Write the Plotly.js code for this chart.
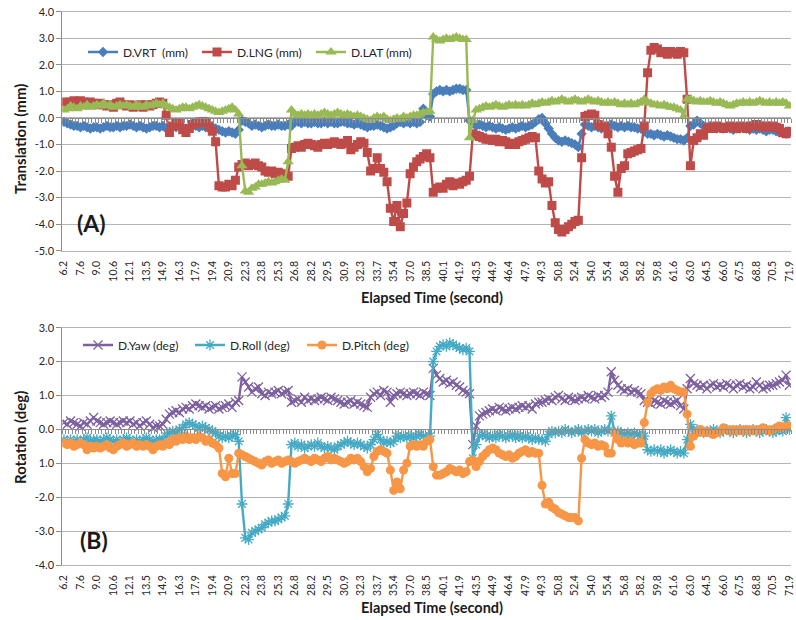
<!DOCTYPE html>
<html><head><meta charset="utf-8">
<script src="https://cdn.plot.ly/plotly-3.0.1.min.js"></script>
<style>html,body{margin:0;padding:0;background:#fff}</style>
</head><body><div id="chart" style="width:796px;height:620px"></div>
<script>
// Labelled elapsed times (every 5th sample)
const tickLabels = ["6.2","7.6","9.0","10.6","12.1","13.5","14.9","16.3","17.9","19.4","20.9","22.3","23.8","25.3","26.8","28.2","29.5","30.9","32.3","33.7","35.4","37.0","38.5","40.1","41.9","43.5","44.9","46.4","47.9","49.3","50.8","52.4","54.0","55.4","56.8","58.2","59.8","61.6","63.0","64.5","66.0","67.5","68.8","70.5","71.9"];

const vrt = [
-0.15,-0.2,-0.25,-0.3,-0.3,
-0.35,-0.3,-0.35,-0.4,-0.35,
-0.35,-0.4,-0.35,-0.3,-0.35,
-0.35,-0.3,-0.35,-0.3,-0.3,
-0.25,-0.3,-0.35,-0.3,-0.35,
-0.4,-0.35,-0.3,-0.3,-0.35,
-0.3,-0.4,-0.35,-0.3,-0.35,
-0.3,-0.35,-0.4,-0.35,-0.3,
-0.3,-0.35,-0.3,-0.35,-0.4,
-0.35,-0.4,-0.45,-0.5,-0.55,
-0.5,-0.55,-0.6,-0.45,-0.1,
-0.15,-0.2,-0.3,-0.25,-0.3,
-0.35,-0.3,-0.25,-0.3,-0.3,
-0.25,-0.3,-0.3,-0.25,-0.3,
-0.15,-0.15,-0.2,-0.15,-0.2,
-0.2,-0.15,-0.2,-0.2,-0.15,
-0.2,-0.15,-0.2,-0.2,-0.15,
-0.15,-0.2,-0.2,-0.25,-0.2,
-0.25,-0.3,-0.35,-0.3,-0.3,
-0.25,-0.3,-0.35,-0.4,-0.35,
-0.3,-0.2,-0.15,-0.2,-0.15,
-0.2,-0.15,-0.2,-0.15,0.35,
0.1,0.05,0.9,1.0,1.05,
1.0,1.05,1.0,1.05,1.1,
1.1,1.05,1.05,-0.1,-0.2,
-0.3,-0.25,-0.3,-0.35,-0.3,
-0.35,-0.4,-0.35,-0.4,-0.45,
-0.4,-0.35,-0.4,-0.35,-0.3,
-0.35,-0.3,-0.25,-0.15,-0.05,
0.0,-0.2,-0.4,-0.6,-0.75,
-0.85,-0.9,-0.85,-0.9,-0.95,
-1.0,-1.1,-0.6,-0.25,-0.3,
-0.35,-0.3,-0.35,-0.4,-0.35,
-0.3,-0.25,-0.3,-0.35,-0.3,
-0.35,-0.3,-0.35,-0.35,-0.4,
-0.4,-0.5,-0.6,-0.6,-0.65,
-0.6,-0.65,-0.7,-0.65,-0.7,
-0.75,-0.8,-0.8,-0.85,-0.75,
-0.3,-0.25,-0.1,-0.2,-0.3,
-0.35,-0.3,-0.35,-0.4,-0.35,
-0.4,-0.35,-0.4,-0.45,-0.4,
-0.4,-0.35,-0.4,-0.45,-0.4,
-0.45,-0.4,-0.45,-0.5,-0.45,
-0.45,-0.5,-0.55,-0.5,-0.6,
-0.55];

const lng = [
0.6,0.55,0.6,0.65,0.6,
0.65,0.6,0.55,0.6,0.55,
0.5,0.55,0.5,0.45,0.5,
0.4,0.55,0.6,0.5,0.45,
0.5,0.4,0.45,0.5,0.4,
0.5,0.45,0.5,0.55,0.6,
0.55,0.1,-0.55,-0.3,-0.2,
-0.2,-0.45,-0.55,-0.4,-0.25,
-0.2,-0.15,-0.15,-0.15,-0.3,
-0.5,-0.9,-2.55,-2.6,-2.6,
-2.5,-2.55,-2.35,-1.85,-1.75,
-1.7,-1.8,-1.75,-1.7,-1.8,
-1.85,-2.0,-2.05,-2.0,-2.1,
-2.05,-2.1,-2.15,-2.2,-1.15,
-1.1,-1.05,-1.1,-1.0,-0.95,
-1.0,-1.05,-1.1,-1.0,-0.95,
-1.0,-0.95,-0.9,-0.95,-1.0,
-0.95,-0.85,-1.2,-1.1,-1.0,
-0.9,-0.95,-1.3,-2.0,-1.9,
-1.5,-1.9,-2.05,-2.4,-3.4,
-3.9,-3.3,-4.1,-3.6,-3.2,
-2.1,-1.85,-1.65,-1.55,-1.45,
-1.35,-1.5,-2.8,-2.65,-2.6,
-2.65,-2.5,-2.4,-2.55,-2.45,
-2.5,-2.4,-2.35,-2.2,-0.6,
-0.65,-0.7,-0.75,-0.8,-0.8,
-0.85,-0.8,-0.9,-0.85,-0.9,
-1.0,-0.95,-1.0,-0.9,-0.85,
-0.8,-0.75,-0.7,-0.75,-2.0,
-2.3,-2.45,-2.4,-3.3,-3.95,
-4.2,-4.3,-4.2,-4.1,-4.0,
-3.9,-3.85,-1.5,0.05,0.1,
0.15,0.1,-0.25,-0.3,-0.35,
-0.6,-1.1,-2.2,-2.8,-1.9,
-1.8,-1.35,-1.3,-1.25,-1.2,
-1.15,-0.3,1.7,2.55,2.65,
2.6,2.45,2.5,2.4,2.5,
2.45,2.4,2.5,2.45,0.7,
-1.8,-0.85,-0.75,-0.6,-0.65,
-0.4,-0.35,-0.4,-0.3,-0.35,
-0.4,-0.35,-0.3,-0.35,-0.4,
-0.3,-0.35,-0.4,-0.3,-0.3,
-0.25,-0.3,-0.35,-0.3,-0.35,
-0.3,-0.35,-0.4,-0.55,-0.6,
-0.5];

const lat = [
0.3,0.35,0.45,0.4,0.35,
0.45,0.4,0.5,0.4,0.45,
0.5,0.45,0.55,0.45,0.5,
0.4,0.45,0.5,0.45,0.5,
0.45,0.4,0.5,0.45,0.4,
0.5,0.45,0.5,0.55,0.5,
0.55,0.45,0.4,0.35,0.3,
0.35,0.4,0.4,0.35,0.4,
0.45,0.5,0.45,0.4,0.35,
0.3,0.25,0.2,0.25,0.3,
0.35,0.4,0.3,0.15,-1.8,
-2.75,-2.8,-2.65,-2.6,-2.5,
-2.5,-2.45,-2.4,-2.45,-2.4,
-2.35,-2.3,-2.35,-1.65,0.3,
0.15,0.1,0.15,0.1,0.15,
0.1,0.15,0.1,0.15,0.2,
0.15,0.1,0.15,0.2,0.15,
0.1,0.15,0.1,0.05,0.1,
0.05,0.0,-0.05,-0.1,0.0,
0.05,0.0,0.05,-0.05,-0.1,
-0.05,0.0,-0.05,0.05,0.0,
0.05,0.1,0.1,0.15,0.2,
0.2,0.25,3.05,2.95,2.9,
2.95,3.0,2.95,3.0,3.05,
3.0,2.95,2.95,-0.75,-0.1,
0.3,0.35,0.4,0.45,0.4,
0.45,0.5,0.45,0.4,0.45,
0.5,0.45,0.5,0.45,0.5,
0.45,0.5,0.55,0.5,0.55,
0.6,0.55,0.6,0.65,0.6,
0.65,0.7,0.65,0.6,0.65,
0.7,0.65,0.6,0.65,0.7,
0.65,0.6,0.65,0.6,0.55,
0.6,0.55,0.6,0.55,0.5,
0.55,0.5,0.55,0.5,0.55,
0.6,0.7,0.6,0.55,0.5,
0.5,0.45,0.5,0.45,0.4,
0.4,0.35,0.3,0.05,0.7,
0.7,0.65,0.6,0.65,0.6,
0.6,0.65,0.6,0.55,0.6,
0.55,0.5,0.45,0.5,0.55,
0.55,0.6,0.55,0.6,0.55,
0.6,0.65,0.6,0.55,0.6,
0.55,0.6,0.55,0.6,0.55,
0.45];

const yaw = [
0.2,0.15,0.25,0.2,0.15,
0.1,0.2,0.15,0.25,0.35,
0.25,0.2,0.15,0.2,0.25,
0.2,0.15,0.2,0.25,0.2,
0.25,0.15,0.2,0.1,0.2,
0.25,0.15,0.05,0.1,0.1,
0.15,0.3,0.45,0.5,0.55,
0.5,0.6,0.65,0.6,0.7,
0.75,0.7,0.65,0.7,0.6,
0.65,0.7,0.6,0.65,0.7,
0.75,0.65,0.8,0.85,1.55,
1.4,1.25,1.1,1.2,1.25,
1.05,1.0,1.1,1.05,1.1,
1.15,1.05,1.1,1.15,0.8,
0.85,0.9,0.8,0.95,0.85,
0.9,0.85,0.9,0.95,0.9,
0.85,0.95,0.9,0.85,0.8,
0.75,0.8,0.85,0.75,0.8,
0.75,0.7,0.65,0.95,1.05,
1.1,1.0,1.15,1.1,0.8,
1.0,1.05,1.1,1.05,1.0,
1.05,1.1,1.05,1.0,1.1,
1.05,1.0,1.8,1.6,1.5,
1.4,1.45,1.35,1.4,1.3,
1.25,1.15,1.1,1.05,-0.45,
0.1,0.4,0.45,0.5,0.55,
0.6,0.55,0.65,0.6,0.55,
0.6,0.65,0.6,0.65,0.7,
0.65,0.7,0.6,0.75,0.8,
0.8,0.85,0.9,0.85,0.95,
1.0,0.9,0.85,0.95,0.9,
0.85,0.9,0.95,0.9,1.0,
0.95,0.9,1.0,0.95,1.0,
1.1,1.7,1.45,1.3,1.2,
1.15,1.2,1.1,1.15,1.1,
1.05,0.85,0.8,0.75,0.85,
0.8,0.75,0.85,0.8,0.75,
0.8,0.85,0.7,0.6,1.2,
1.5,1.35,1.3,1.25,1.3,
1.2,1.3,1.35,1.25,1.3,
1.25,1.35,1.3,1.2,1.3,
1.35,1.25,1.3,1.2,1.25,
1.4,1.3,1.2,1.25,1.3,
1.3,1.35,1.4,1.45,1.6,
1.3];

const roll = [
-0.3,-0.35,-0.3,-0.4,-0.3,
-0.35,-0.3,-0.25,-0.35,-0.3,
-0.3,-0.35,-0.3,-0.25,-0.3,
-0.35,-0.3,-0.35,-0.3,-0.25,
-0.3,-0.35,-0.3,-0.35,-0.3,
-0.25,-0.3,-0.35,-0.3,-0.3,
-0.3,-0.2,-0.1,-0.05,-0.1,
0.0,0.05,0.15,0.2,0.15,
0.1,0.05,0.1,0.05,0.0,
-0.05,-0.1,-0.2,-0.25,-0.2,
-0.25,-0.2,-0.15,-0.35,-2.2,
-3.2,-3.25,-3.05,-3.0,-2.95,
-2.9,-2.8,-2.75,-2.7,-2.7,
-2.65,-2.6,-2.55,-2.2,-0.45,
-0.4,-0.5,-0.45,-0.55,-0.5,
-0.45,-0.5,-0.4,-0.5,-0.55,
-0.5,-0.55,-0.6,-0.5,-0.45,
-0.4,-0.35,-0.4,-0.45,-0.4,
-0.45,-0.5,-0.55,-0.45,-0.3,
-0.15,-0.3,-0.4,-0.35,-0.4,
-0.35,-0.2,-0.25,-0.2,-0.25,
-0.2,-0.25,-0.2,-0.15,-0.2,
-0.25,-0.2,2.0,2.3,2.45,
2.5,2.45,2.55,2.5,2.45,
2.4,2.35,2.4,2.3,-0.85,
-0.45,-0.2,-0.15,-0.2,-0.25,
-0.2,-0.25,-0.15,-0.2,-0.25,
-0.2,-0.15,-0.25,-0.2,-0.25,
-0.2,-0.25,-0.3,-0.25,-0.3,
-0.3,-0.35,-0.15,-0.05,-0.1,
-0.05,-0.1,0.0,-0.05,-0.1,
-0.05,0.0,-0.1,-0.05,0.0,
-0.05,0.0,-0.1,-0.05,0.0,
-0.05,0.4,-0.1,-0.05,-0.1,
-0.15,-0.1,-0.15,-0.1,-0.15,
-0.2,-0.2,-0.6,-0.65,-0.6,
-0.65,-0.6,-0.7,-0.65,-0.6,
-0.65,-0.7,-0.65,-0.7,-0.3,
0.15,-0.05,0.0,-0.05,-0.1,
-0.05,-0.1,0.0,-0.05,-0.1,
-0.05,0.0,-0.05,-0.1,-0.05,
0.0,-0.05,-0.1,-0.05,0.0,
-0.05,-0.1,-0.05,0.0,-0.05,
-0.1,-0.05,0.0,-0.05,0.35,
0.0];

const pitch = [
-0.4,-0.45,-0.4,-0.5,-0.45,
-0.4,-0.45,-0.6,-0.5,-0.55,
-0.5,-0.55,-0.5,-0.45,-0.55,
-0.6,-0.5,-0.45,-0.4,-0.5,
-0.45,-0.4,-0.5,-0.45,-0.5,
-0.45,-0.5,-0.6,-0.5,-0.45,
-0.5,-0.4,-0.45,-0.3,-0.35,
-0.25,-0.3,-0.2,-0.3,-0.25,
-0.3,-0.2,-0.25,-0.35,-0.3,
-0.4,-0.45,-0.55,-1.3,-1.4,
-0.85,-1.3,-1.3,-0.7,-0.75,
-0.8,-0.85,-0.9,-0.95,-1.0,
-1.05,-0.95,-0.9,-1.0,-0.95,
-0.9,-1.0,-0.95,-0.9,-0.95,
-1.0,-0.95,-0.9,-0.85,-0.9,
-0.95,-0.85,-0.9,-0.95,-0.85,
-0.8,-0.9,-0.85,-0.9,-0.95,
-1.0,-0.95,-0.85,-0.9,-0.85,
-0.95,-1.1,-1.25,-1.15,-0.8,
-0.65,-0.6,-0.65,-0.7,-1.2,
-1.8,-1.55,-1.75,-1.2,-1.0,
-0.5,-0.45,-0.5,-0.45,-0.5,
-0.35,-0.3,-1.1,-1.35,-1.35,
-1.3,-1.25,-1.15,-1.2,-1.25,
-1.2,-1.3,-1.25,-0.95,-0.9,
-1.1,-0.95,-0.8,-0.7,-0.6,
-0.55,-0.6,-0.7,-0.75,-0.8,
-0.75,-0.85,-0.8,-0.7,-0.65,
-0.6,-0.7,-0.65,-0.7,-0.7,
-1.65,-2.2,-2.15,-2.3,-2.35,
-2.45,-2.5,-2.55,-2.6,-2.6,
-2.6,-2.7,-0.85,-0.3,-0.4,
-0.45,-0.4,-0.5,-0.45,-0.5,
-0.7,-0.7,-0.1,-0.3,-0.4,
-0.35,-0.4,-0.35,-0.45,-0.4,
-0.4,0.2,0.8,1.05,1.15,
1.2,1.15,1.25,1.2,1.3,
1.2,1.15,1.1,1.1,0.45,
-0.5,-0.2,-0.1,0.0,-0.1,
-0.05,-0.1,-0.15,-0.1,-0.05,
0.05,0.0,-0.05,0.0,-0.05,
0.0,-0.05,0.0,-0.05,0.0,
-0.05,0.0,0.05,0.0,-0.05,
0.0,0.05,0.1,0.05,0.1,
0.1];

// y tick labels exactly as printed in the source
const transTicks = ['-5.0','-4.0','-3.0','-2.0','-1.0','0.0','1.0','2.0','3.0','4.0'];
const rotTicks = ['-4.0','-3.0','-2.0','1.0','0.0','1.0','2.0','3.0'];

const idx = vrt.map((_, i) => i);
const tickVals = tickLabels.map((_, k) => k * 5);
const XR = [-0.5, idx.length - 0.5];

const FONT = 'Lato, "Open Sans", "DejaVu Sans", sans-serif';
const GRID = '#b4b4b4';
const AXL = '#8c8c8c';

function tr(y, name, color, symbol, size, xa, ya, leg, mline) {
  const m = {symbol: symbol, size: size, color: color};
  if (mline) m.line = {color: color, width: mline};
  return {x: idx, y: y, name: name, type: 'scatter', mode: 'lines+markers',
    xaxis: xa, yaxis: ya, legend: leg, line: {color: color, width: 2.4}, marker: m,
    hoverinfo: 'name+y'};
}

const data = [
  tr(vrt, 'D.VRT  (mm)', '#4A7EBB', 'diamond', 8, 'x', 'y', 'legend'),
  tr(lng, 'D.LNG (mm)', '#BE4B48', 'square', 9, 'x', 'y', 'legend'),
  tr(lat, 'D.LAT (mm)', '#98B954', 'triangle-up', 10, 'x', 'y', 'legend'),
  tr(yaw, 'D.Yaw (deg)', '#7D60A0', 'x-thin-open', 9, 'x2', 'y2', 'legend2', 1.3),
  tr(roll, 'D.Roll (deg)', '#46AAC5', 'asterisk-open', 9, 'x2', 'y2', 'legend2', 1.3),
  tr(pitch, 'D.Pitch (deg)', '#F79646', 'circle', 9, 'x2', 'y2', 'legend2'),
  {x: [null], y: [null], xaxis: 'x3', yaxis: 'y', showlegend: false, hoverinfo: 'skip', type: 'scatter', mode: 'lines'},
  {x: [null], y: [null], xaxis: 'x4', yaxis: 'y2', showlegend: false, hoverinfo: 'skip', type: 'scatter', mode: 'lines'}
];

const xDom = [62.3 / 796, 791 / 796];
const yDomA = [1 - 250.7 / 620, 1 - 11.7 / 620];
const yDomB = [1 - 565 / 620, 1 - 327.7 / 620];
const zeroA = yDomA[0] + (5 / 9) * (yDomA[1] - yDomA[0]);
const zeroB = yDomB[0] + (4 / 7) * (yDomB[1] - yDomB[0]);

function catAxis(anchor) {
  return {domain: xDom, range: XR, anchor: anchor, tickmode: 'array', tickvals: tickVals,
    ticktext: tickLabels, tickangle: -90, showgrid: false, zeroline: false,
    showline: true, mirror: true, linecolor: GRID, linewidth: 1, ticks: '',
    ticklabelstandoff: 5, tickfont: {size: 10.5, color: '#262626'}, fixedrange: true};
}
function zeroAxis(over, pos) {
  return {overlaying: over, anchor: 'free', position: pos, range: XR, tickmode: 'linear',
    tick0: -0.5, dtick: 1, ticks: 'outside', ticklen: 4, tickcolor: AXL, tickwidth: 1,
    showticklabels: false, showgrid: false, zeroline: false, showline: true,
    linecolor: AXL, linewidth: 1, fixedrange: true};
}
function valAxis(dom, rng, anchor, ticktext) {
  return {domain: dom, range: rng, anchor: anchor, tickmode: 'array',
    tickvals: ticktext.map((_, i) => rng[0] + i), ticktext: ticktext,
    showgrid: true, gridcolor: GRID, gridwidth: 1, zeroline: false, showline: true,
    linecolor: AXL, linewidth: 1, ticks: 'outside', ticklen: 5, tickcolor: AXL,
    tickfont: {size: 11, color: '#262626'}, fixedrange: true};
}

const legBase = {orientation: 'h', xanchor: 'left', yanchor: 'middle', bgcolor: 'rgba(0,0,0,0)',
  font: {size: 12, color: '#262626', family: FONT}, entrywidthmode: 'pixels', itemwidth: 30,
  borderwidth: 0};

const bold = (s) => '<b>' + s + '</b>';
const ann = (text, x, y, size, opts) => Object.assign({text: text, x: x / 796, y: 1 - y / 620,
  xref: 'paper', yref: 'paper', xanchor: 'center', yanchor: 'middle', showarrow: false,
  font: {size: size, color: '#1a1a1a', family: FONT}}, opts || {});

const layout = {
  width: 796, height: 620, margin: {l: 0, r: 0, t: 0, b: 0},
  paper_bgcolor: '#ffffff', plot_bgcolor: '#ffffff',
  font: {family: FONT, size: 11, color: '#262626'},
  showlegend: true,
  xaxis: catAxis('y'),
  xaxis2: catAxis('y2'),
  xaxis3: zeroAxis('x', zeroA),
  xaxis4: zeroAxis('x2', zeroB),
  yaxis: valAxis(yDomA, [-5, 4], 'x', transTicks),
  yaxis2: valAxis(yDomB, [-4, 3], 'x2', rotTicks),
  legend: Object.assign({}, legBase, {x: 83 / 796, y: 1 - 52 / 620, entrywidth: 69}),
  legend2: Object.assign({}, legBase, {x: 78 / 796, y: 1 - 345 / 620, entrywidth: 67}),
  annotations: [
    ann(bold('(A)'), 91, 223, 23),
    ann(bold('(B)'), 94, 540, 23),
    ann(bold('Elapsed Time (second)'), 432, 297, 14.5),
    ann(bold('Elapsed Time (second)'), 432, 607, 14.5),
    ann(bold('Translation (mm)'), 20, 139, 15),
    ann(bold('Rotation (deg)'), 20, 438, 15)
  ]
};
layout.annotations[4].textangle = -90;
layout.annotations[5].textangle = -90;

Plotly.newPlot('chart', data, layout, {displayModeBar: false, staticPlot: true});
</script>
</body></html>
